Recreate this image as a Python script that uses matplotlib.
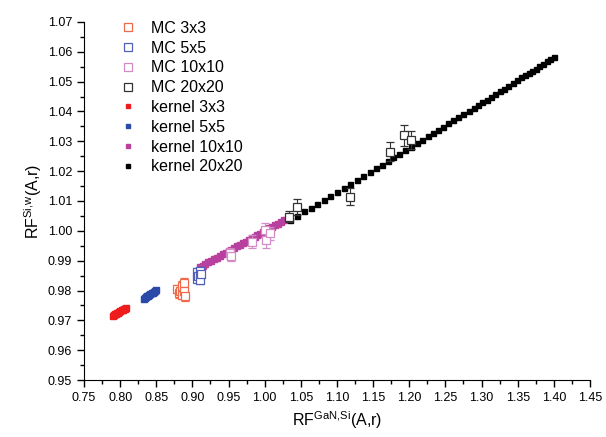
import numpy as np
import matplotlib
matplotlib.use("Agg")
import matplotlib.pyplot as plt
from matplotlib.lines import Line2D

plt.rcParams['font.family'] = ['Liberation Sans', 'DejaVu Sans']
plt.rcParams['mathtext.fontset'] = 'custom'
plt.rcParams['mathtext.rm'] = 'Liberation Sans'

# kernel curves
k3_x = [0.790, 0.7915, 0.793, 0.7945, 0.796, 0.7975, 0.799, 0.8005, 0.802, 0.8035, 0.805, 0.8065, 0.808]
k3_y = [0.9716, 0.9718, 0.9720, 0.9722, 0.9724, 0.9726, 0.9728, 0.9731, 0.9733, 0.9735, 0.9737, 0.9739, 0.9742]

k5_x = [0.833, 0.8345, 0.836, 0.8375, 0.839, 0.8405, 0.842, 0.8435, 0.845, 0.8465, 0.848, 0.8495]
k5_y = [0.9773, 0.9776, 0.9778, 0.9781, 0.9783, 0.9786, 0.9788, 0.9791, 0.9793, 0.9796, 0.9798, 0.9801]

k10_x = [0.910, 0.914, 0.918, 0.922, 0.926, 0.930, 0.934, 0.938, 0.942, 0.946,
         0.950, 0.954, 0.958, 0.962, 0.966, 0.970, 0.974, 0.978, 0.982, 0.986,
         0.990, 0.994, 0.998, 1.002, 1.006, 1.010, 1.014, 1.018, 1.022, 1.026]
k10_y = [0.9878, 0.9883, 0.9889, 0.9894, 0.9900, 0.9905, 0.9910, 0.9916, 0.9921, 0.9927,
         0.9932, 0.9937, 0.9943, 0.9948, 0.9954, 0.9959, 0.9964, 0.9970, 0.9975, 0.9981,
         0.9986, 0.9991, 0.9997, 1.0002, 1.0008, 1.0013, 1.0018, 1.0024, 1.0029, 1.0035]

k20_x = [1.035, 1.045, 1.055, 1.064, 1.073, 1.082, 1.091, 1.100, 1.109, 1.118,
         1.127, 1.136, 1.145, 1.154, 1.162, 1.170, 1.178, 1.186, 1.194, 1.202,
         1.210, 1.218, 1.226, 1.233, 1.240, 1.247, 1.254, 1.261, 1.268, 1.275,
         1.282, 1.289, 1.295, 1.301, 1.307, 1.313, 1.319, 1.325, 1.331, 1.337,
         1.343, 1.349, 1.355, 1.360, 1.365, 1.370, 1.375, 1.380, 1.385, 1.390,
         1.395, 1.400]
k20_y = [1.0036, 1.0051, 1.0065, 1.0078, 1.0091, 1.0105, 1.0118, 1.0131, 1.0144, 1.0157,
         1.0171, 1.0184, 1.0197, 1.0210, 1.0222, 1.0234, 1.0246, 1.0258, 1.0270, 1.0282,
         1.0294, 1.0306, 1.0318, 1.0328, 1.0339, 1.0349, 1.0360, 1.0370, 1.0381, 1.0391,
         1.0402, 1.0413, 1.0422, 1.0431, 1.0440, 1.0449, 1.0458, 1.0468, 1.0477, 1.0486,
         1.0495, 1.0504, 1.0514, 1.0521, 1.0529, 1.0537, 1.0544, 1.0552, 1.0560, 1.0568,
         1.0575, 1.0583]

# Monte Carlo points with error bars
mc3_x = [0.878, 0.881, 0.883, 0.885, 0.886, 0.888, 0.889, 0.890]
mc3_y = [0.9805, 0.9790, 0.9800, 0.9785, 0.9815, 0.9825, 0.9800, 0.9780]
mc3_e = [0.0015, 0.0015, 0.0015, 0.0015, 0.0018, 0.0018, 0.0015, 0.0015]

mc5_x = [0.906, 0.907, 0.908, 0.910, 0.911, 0.912]
mc5_y = [0.9862, 0.9840, 0.9848, 0.9835, 0.9866, 0.9855]
mc5_e = [0.0012, 0.0012, 0.0012, 0.0012, 0.0012, 0.0012]

mc10_x = [0.952, 0.954, 0.982, 1.000, 1.002, 1.007]
mc10_y = [0.9925, 0.9917, 0.9963, 1.0003, 0.9970, 0.9992]
mc10_e = [0.0018, 0.0018, 0.0022, 0.0022, 0.0028, 0.0022]

mc20_x = [1.033, 1.044, 1.118, 1.174, 1.193, 1.202]
mc20_y = [1.0048, 1.0080, 1.0115, 1.0265, 1.0320, 1.0305]
mc20_e = [0.0018, 0.0028, 0.0028, 0.0032, 0.0035, 0.0030]

fig = plt.figure(figsize=(6.06, 4.37), dpi=100)
ax = fig.add_axes([0.1386, 0.1304, 0.835, 0.8193])

handles = []
mc_sets = [(mc3_x, mc3_y, mc3_e, '#f06a4a', 'MC 3x3'),
           (mc5_x, mc5_y, mc5_e, '#5060b8', 'MC 5x5'),
           (mc10_x, mc10_y, mc10_e, '#d58ac8', 'MC 10x10'),
           (mc20_x, mc20_y, mc20_e, '#333333', 'MC 20x20')]
for x, y, e, c, lab in mc_sets:
    ax.errorbar(x, y, yerr=e, fmt='s', ms=5.5, mfc='white', mec=c, mew=0.9,
                ecolor=c, elinewidth=0.8, capsize=3, capthick=0.8, zorder=3)
    handles.append(Line2D([], [], ls='none', marker='s', ms=5.5, mfc='white',
                          mec=c, mew=0.9, label=lab))

k_sets = [(k3_x, k3_y, '#ee1c1c', 4.5, 'kernel 3x3'),
          (k5_x, k5_y, '#2a4aa8', 4.5, 'kernel 5x5'),
          (k10_x, k10_y, '#b8409e', 4.5, 'kernel 10x10'),
          (k20_x, k20_y, '#000000', 3.6, 'kernel 20x20')]
for x, y, c, s, lab in k_sets:
    ax.plot(x, y, 's', ms=s, color=c, mec=c, zorder=2)
    handles.append(Line2D([], [], ls='none', marker='s', ms=3.2, color=c,
                          label=lab))

ax.set_xlim(0.75, 1.45)
ax.set_ylim(0.95, 1.07)
ax.set_xticks(np.arange(0.75, 1.451, 0.05))
ax.set_xticks(np.arange(0.775, 1.45, 0.05), minor=True)
ax.set_yticks(np.arange(0.95, 1.0701, 0.01))
ax.set_yticks(np.arange(0.955, 1.07, 0.01), minor=True)
ax.xaxis.set_major_formatter(matplotlib.ticker.FormatStrFormatter('%.2f'))
ax.yaxis.set_major_formatter(matplotlib.ticker.FormatStrFormatter('%.2f'))
ax.tick_params(which='major', direction='out', length=5, width=1, labelsize=9)
ax.tick_params(which='minor', direction='out', length=3, width=1)
for s in ['top', 'right']:
    ax.spines[s].set_visible(False)

ax.set_xlabel(r'RF$^{\mathrm{GaN{,}Si}}$(A,r)', fontsize=11.5, labelpad=4)
ax.set_ylabel(r'RF$^{\mathrm{Si{,}w}}$(A,r)', fontsize=11.5, labelpad=3)

ax.legend(handles=handles, loc='upper left', bbox_to_anchor=(0.055, 1.021),
          borderaxespad=0, frameon=False, fontsize=11.5, handletextpad=0.84,
          labelspacing=0.3, handlelength=1.2)

plt.savefig("out.png", dpi=100)
